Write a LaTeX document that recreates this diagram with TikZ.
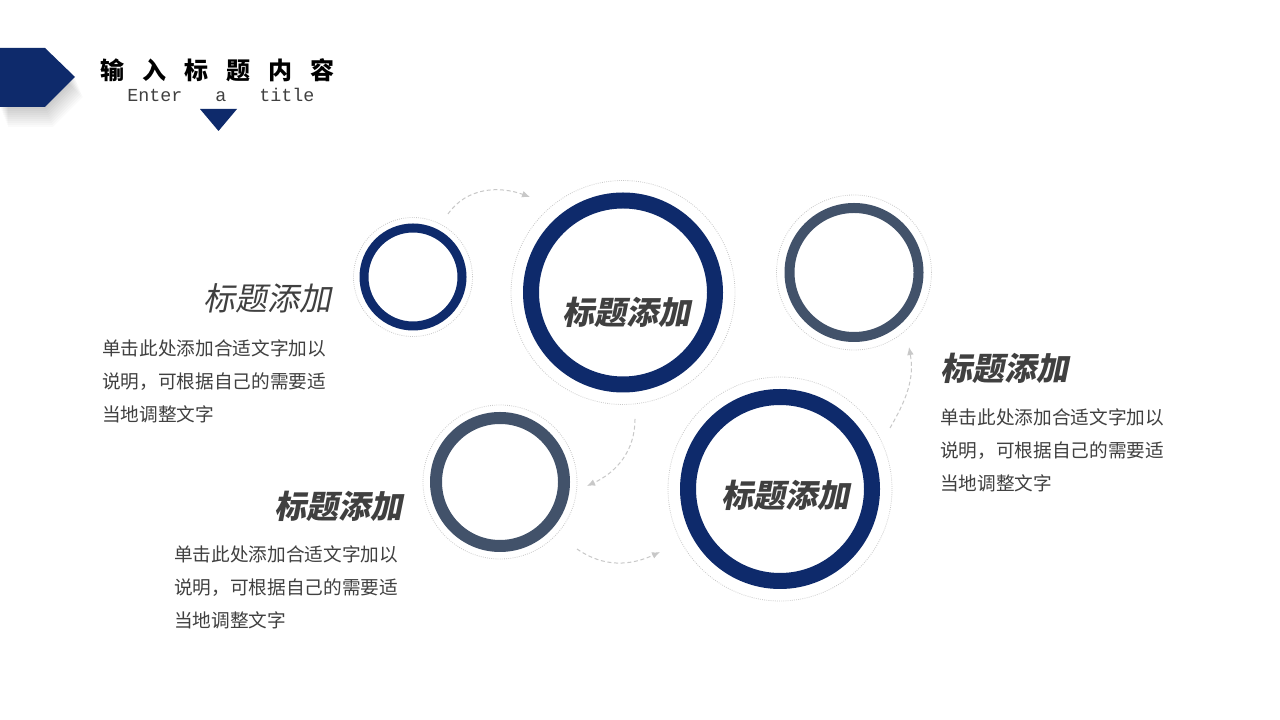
\documentclass[tikz,border=0pt]{standalone}
\usepackage{fontspec}
\usepackage{xcolor}
\usepackage{tikz}
\usetikzlibrary{arrows.meta, positioning, calc}
\newfontfamily\cjk{Noto Sans CJK SC}
\newfontfamily\cjkit[FakeSlant=0.2]{Noto Sans CJK SC}
\newfontfamily\enmono{Liberation Mono}
\definecolor{navy}{RGB}{14,42,107}
\definecolor{slate}{RGB}{66,82,106}
\definecolor{ink}{RGB}{64,64,64}
\definecolor{haze}{RGB}{200,200,200}

\begin{document}
\begin{tikzpicture}[
    x=0.75pt, y=0.75pt,
    ring/.style={circle, draw, inner sep=0pt},
    halo/.style={circle, draw=haze, densely dotted, line width=0.6pt, inner sep=0pt},
    head/.style={font=\cjkit\bfseries\fontsize{24}{28}\selectfont, text=ink, inner sep=0pt},
    desc/.style={font=\cjk\fontsize{14}{24.75}\selectfont, text=ink, align=left, inner sep=0pt, anchor=north west},
    arrow/.style={-{Latex[length=6pt, width=5pt]}, draw=haze, dash pattern=on 3pt off 2pt, line width=0.75pt}
]
\useasboundingbox (0,0) rectangle (1280,720);
\fill[white] (0,0) rectangle (1280,720);

% Header (soft shadow, then tag)
\foreach \s in {2,4,...,20}
    \fill[black, opacity=0.018, shift={(0.4*\s,-\s)}]
        (0,672) -- (45,672) -- (75,643) -- (45,613) -- (0,613) -- cycle;
\fill[navy] (0,672) -- (45,672) -- (75,643) -- (45,613) -- (0,613) -- cycle;
\node[anchor=west, inner sep=0pt, font=\cjk\bfseries\fontsize{18}{20}\selectfont] (title) at (100,650)
    {输\hspace{13.5pt}入\hspace{13.5pt}标\hspace{13.5pt}题\hspace{13.5pt}内\hspace{13.5pt}容};
\node[anchor=west, inner sep=0pt, font=\enmono\fontsize{13.75}{16}\selectfont, text=ink] (subtitle) at (127,625)
    {Enter~~~a~~~title};
\fill[navy] (200,611) -- (237,611) -- (218.5,589) -- cycle;

% Circles
\node[halo, minimum size=89.25pt] (h1) at (413,443) {};
\node[ring, draw=navy, line width=6.75pt, minimum size=73.5pt] (c1) at (413,443) {};
\node[halo, minimum size=168pt] (h2) at (623,427.5) {};
\node[ring, draw=navy, line width=12pt, minimum size=138pt] (c2) at (623,427.5) {};
\node[halo, minimum size=116.25pt] (h3) at (854,447.5) {};
\node[ring, draw=slate, line width=7.5pt, minimum size=96.75pt] (c3) at (854,447.5) {};
\node[halo, minimum size=168pt] (h4) at (780,231) {};
\node[ring, draw=navy, line width=12pt, minimum size=138pt] (c4) at (780,231) {};
\node[halo, minimum size=115.5pt] (h5) at (500,238) {};
\node[ring, draw=slate, line width=9pt, minimum size=96pt] (c5) at (500,238) {};

\node[head] (c2text) at (626,408) {标题添加};
\node[head] (c4text) at (785,225) {标题添加};

% Flow arrows
\coordinate (a1) at (448,506);
\coordinate (a2) at (530,523);
\coordinate (b1) at (635,301);
\coordinate (b2) at (587,234);
\coordinate (d1) at (577,171);
\coordinate (d2) at (660,168);
\coordinate (e1) at (890,292);
\coordinate (e2) at (909,373);
\draw[arrow] (a1) to[out=55, in=160] (a2);
\draw[arrow] (b1) to[out=-90, in=25] (b2);
\draw[arrow] (d1) to[out=-35, in=205] (d2);
\draw[arrow] (e1) to[out=60, in=-80] (e2);

% Text blocks
\node[head, font=\cjkit\fontsize{24}{28}\selectfont, anchor=east] (lefthead) at (332,422) {标题添加};
\node[desc] (lefttext) at (102,381) {单击此处添加合适文字加以\\说明，可根据自己的需要适\\当地调整文字};

\node[head, anchor=east] (lowhead) at (403,214) {标题添加};
\node[desc] (lowtext) at (174,174.3) {单击此处添加合适文字加以\\说明，可根据自己的需要适\\当地调整文字};

\node[head, anchor=west] (righthead) at (940,352) {标题添加};
\node[desc, below=18.5pt of righthead.south west, anchor=north west] (righttext) {单击此处添加合适文字加以\\说明，可根据自己的需要适\\当地调整文字};

\end{tikzpicture}
\end{document}
